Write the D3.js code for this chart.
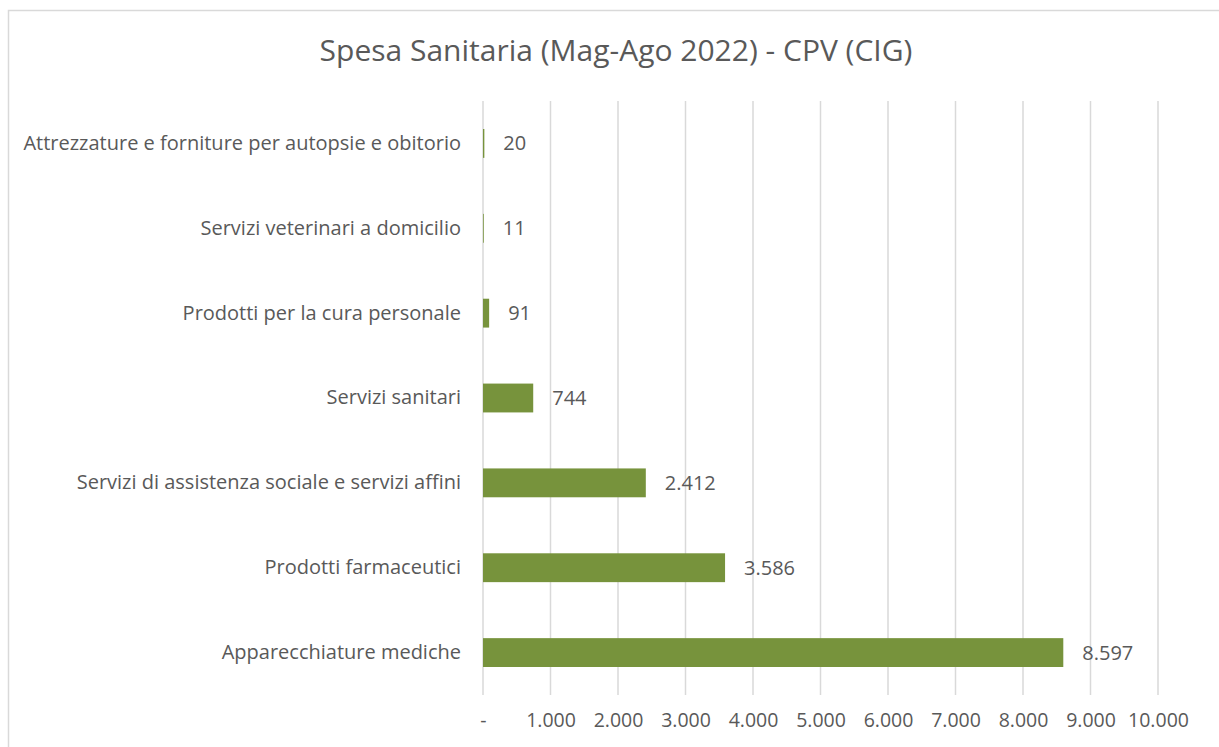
<!DOCTYPE html>
<html>
<head>
<meta charset="utf-8">
<script src="https://cdn.jsdelivr.net/npm/d3@7"></script>
<style>
  body { margin: 0; background: #fff; }
  svg text { font-family: "Open Sans", "Noto Sans", sans-serif; fill: #595959; }
</style>
</head>
<body>
<div id="chart"></div>
<script>
// data
var categories = ['Attrezzature e forniture per autopsie e obitorio', 'Servizi veterinari a domicilio', 'Prodotti per la cura personale', 'Servizi sanitari', 'Servizi di assistenza sociale e servizi affini', 'Prodotti farmaceutici', 'Apparecchiature mediche'];
var values = [20, 11, 91, 744, 2412, 3586, 8597];
var tickValues = [0, 1000, 2000, 3000, 4000, 5000, 6000, 7000, 8000, 9000, 10000];
var title = 'Spesa Sanitaria (Mag-Ago 2022) - CPV (CIG)';

var width = 1219, height = 747;
var margin = { top: 101, right: 61, bottom: 52, left: 483 };
var innerW = width - margin.left - margin.right;
var innerH = height - margin.top - margin.bottom;

var svg = d3.select('#chart').append('svg')
  .attr('width', width)
  .attr('height', height);

// chart frame
svg.append('rect')
  .attr('x', 8.5).attr('y', 10.5)
  .attr('width', 1230).attr('height', 760)
  .attr('fill', 'none')
  .attr('stroke', '#d9d9d9')
  .attr('stroke-width', 1.5);

svg.append('text')
  .attr('x', 616).attr('y', 50)
  .attr('text-anchor', 'middle')
  .attr('dy', '0.35em')
  .attr('font-size', 30)
  .text(title);

var g = svg.append('g')
  .attr('transform', 'translate(' + margin.left + ',' + margin.top + ')');

var x = d3.scaleLinear().domain([0, 10000]).range([0, innerW]);
var y = d3.scaleBand().domain(categories).range([0, innerH]).paddingInner(0.66).paddingOuter(0.33);

// gridlines
g.append('g')
  .selectAll('line')
  .data(tickValues)
  .enter().append('line')
  .attr('x1', function(d) { return x(d); })
  .attr('x2', function(d) { return x(d); })
  .attr('y1', 0)
  .attr('y2', innerH)
  .attr('stroke', '#d9d9d9')
  .attr('stroke-width', 1.5);

// x axis labels
var fmt = d3.formatLocale({ decimal: ',', thousands: '.', grouping: [3], currency: ['', '€'] }).format(',d');
var xAxis = d3.axisBottom(x)
  .tickValues(tickValues)
  .tickSize(0)
  .tickPadding(18)
  .tickFormat(function(d) { return d === 0 ? '-' : fmt(d); });
g.append('g')
  .attr('transform', 'translate(0,' + innerH + ')')
  .call(xAxis)
  .call(function(a) { a.select('.domain').remove(); })
  .selectAll('text')
  .attr('font-size', 19.5)
  .attr('fill', '#595959');

// category labels
var yAxis = d3.axisLeft(y).tickSize(0).tickPadding(22);
g.append('g')
  .call(yAxis)
  .call(function(a) { a.select('.domain').remove(); })
  .selectAll('text')
  .attr('font-size', 20)
  .attr('fill', '#595959');
g.selectAll('.tick').each(function() { d3.select(this.parentNode).attr('font-family', null); });

// bars
g.append('g')
  .selectAll('rect')
  .data(categories)
  .enter().append('rect')
  .attr('x', x(0))
  .attr('y', function(d) { return y(d); })
  .attr('width', function(d, i) { return x(values[i]) - x(0); })
  .attr('height', y.bandwidth())
  .attr('fill', '#77933c');

// value labels
g.append('g')
  .selectAll('text')
  .data(categories)
  .enter().append('text')
  .attr('x', function(d, i) { return x(values[i]) + 19; })
  .attr('y', function(d) { return y(d) + y.bandwidth() / 2; })
  .attr('dy', '0.35em')
  .attr('font-size', 20)
  .text(function(d, i) { return fmt(values[i]); });
</script>
</body>
</html>
